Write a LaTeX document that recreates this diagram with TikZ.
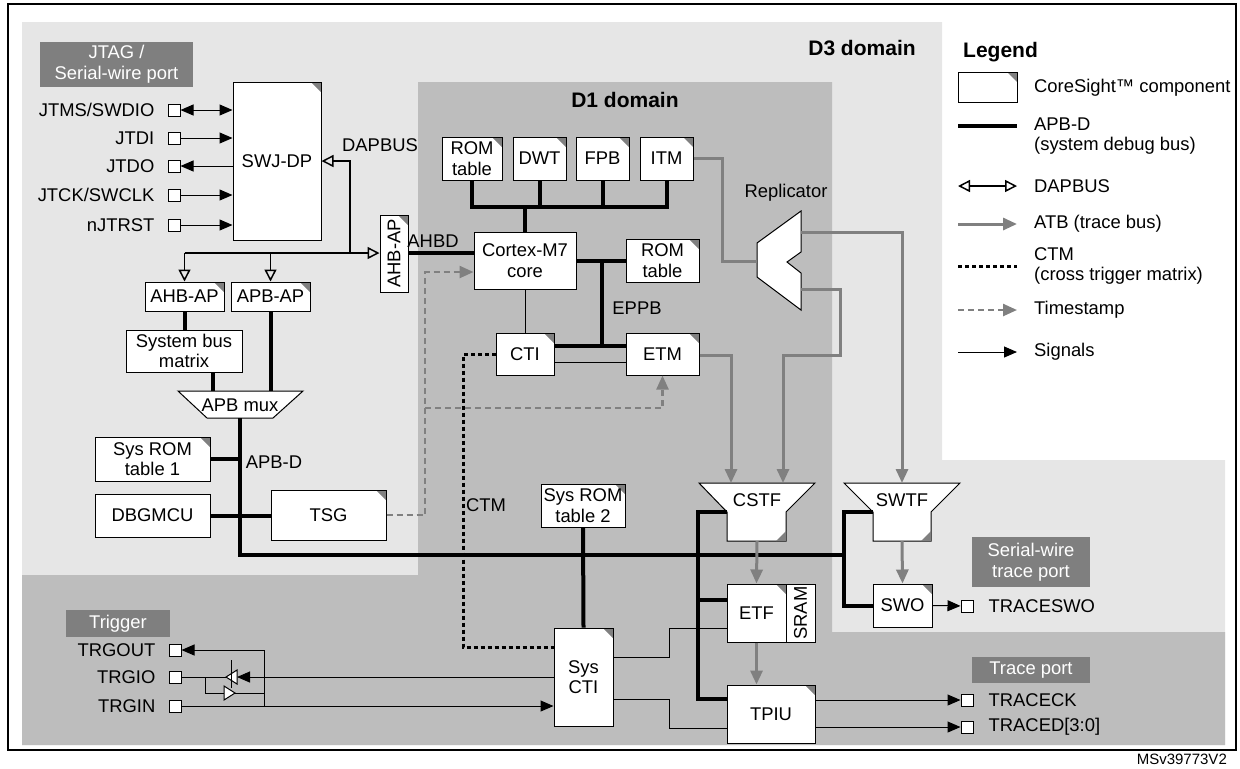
\documentclass[tikz,border=0pt]{standalone}
\usepackage{fontspec}
\setmainfont{Liberation Sans}
\usetikzlibrary{arrows.meta,fit,positioning}
\definecolor{lightc}{HTML}{E6E6E6}
\definecolor{darkc}{HTML}{BDBDBD}
\definecolor{tagc}{HTML}{7F7F7F}
\definecolor{atbc}{HTML}{808080}
\begin{document}
\begin{tikzpicture}[x=0.5pt,y=-0.5pt,
    font=\fontsize{9.2}{10.3}\selectfont, line width=0.5pt,
    comp/.style={draw, fill=white, inner sep=0pt,
      path picture={\fill[atbc] ([xshift=-5pt]path picture bounding box.north east)
        -- (path picture bounding box.north east) -- ([yshift=-5pt]path picture bounding box.north east) -- cycle;}},
    plain/.style={draw, fill=white, inner sep=0pt},
    txt/.style={label={[align=center]center:{#1}}},
    port/.style={draw, fill=white, minimum size=6pt, inner sep=0pt},
    tag/.style={fill=tagc, inner sep=0pt, label={[align=center, text=white]center:{#1}}},
    bus/.style={line width=2pt},
    atb/.style={draw=atbc, line width=1.5pt},
    atbarr/.style={atb, -{Triangle[length=7pt,width=6pt]}},
    sig/.style={-{Triangle[length=6.5pt,width=5.5pt]}},
    dap/.style={-{Triangle[open,length=6pt,width=6pt]}, line width=0.75pt},
    ctm/.style={line width=1.5pt, dash pattern=on 2pt off 1.5pt},
    ts/.style={draw=atbc, line width=1.2pt, dash pattern=on 3pt off 2pt, -{Triangle[length=7pt,width=6pt]}},
    title/.style={font=\bfseries\fontsize{10.5}{12}\selectfont}]
  \useasboundingbox (0,0) rectangle (1240,768);
  % domains
  \fill[lightc] (22,22) -| (942,460) -| (1225,745) -| cycle;
  \fill[darkc] (418,82) -| (832,632) -| (1225,745) -| (22,575) -| cycle;
  \draw[line width=1pt] (8,4) rectangle (1236,750);
  \node[title] (d3) at (862,48) {D3 domain};
  \node[title] (d1) at (625,100) {D1 domain};
  \node[anchor=east, font=\fontsize{7.5}{9}\selectfont] (msv) at (1234,759) {MSv39773V2};

  % JTAG / SW port
  \node[tag={JTAG /\\Serial-wire port}, fit={(40,42)(193,87)}] (jtagtag) {};
  \node[comp, txt=SWJ-DP, fit={(233,82)(321,240)}] (swjdp) {};
  \node[port] (ptms) at (174,110) {};
  \node[port] (ptdi) at (174,138) {};
  \node[port] (ptdo) at (174,166) {};
  \node[port] (ptck) at (174,195) {};
  \node[port] (ptrst) at (174,225) {};
  \node[left=3pt of ptms] {JTMS/SWDIO};
  \node[left=3pt of ptdi] {JTDI};
  \node[left=3pt of ptdo] {JTDO};
  \node[left=3pt of ptck] {JTCK/SWCLK};
  \node[left=3pt of ptrst] {nJTRST};
  \draw[{Triangle[length=6.5pt,width=5.5pt]}-{Triangle[length=6.5pt,width=5.5pt]}] (ptms) -- (swjdp.west |- ptms);
  \draw[sig] (ptdi) -- (swjdp.west |- ptdi);
  \draw[sig] (swjdp.west |- ptdo) -- (ptdo);
  \draw[sig] (ptck) -- (swjdp.west |- ptck);
  \draw[sig] (ptrst) -- (swjdp.west |- ptrst);

  % DAPBUS
  \node[comp, txt=AHB-AP, fit={(145,282)(224,311)}] (ahbap) {};
  \node[comp, txt=APB-AP, fit={(231,282)(310,311)}] (apbap) {};
  \node[comp, fit={(380,215)(408,292)}] (ahbapv) {};
  \node[rotate=90] (ahbapvt) at (ahbapv) {AHB-AP};
  \coordinate (dapj) at (350,253);
  \draw[dap] (dapj) |- (swjdp.east);
  \draw[line width=0.75pt] (ahbap.north |- dapj) -- (dapj);
  \draw[dap] (ahbap.north |- dapj) -- (ahbap.north);
  \draw[dap] (apbap.north |- dapj) -- (apbap.north);
  \draw[dap] (dapj) -- (ahbapv.west |- dapj);
  \node (dapbus) at (380,145) {DAPBUS};

  % system side
  \node[plain, txt={System bus\\matrix}, fit={(126,330)(242,372)}] (sbm) {};
  \draw[fill=white] (178,391) -- (303,391) -- (273,418) -- (207,418) -- cycle;
  \node (apbmux) at (240,405) {APB mux};
  \draw[bus] (ahbap.south) -- (ahbap.south |- sbm.north);
  \draw[bus] (sbm.south -| 213,0) -- (213,391);
  \draw[bus] (apbap.south) -- (apbap.south |- 0,391);
  \node[comp, txt={Sys ROM\\table 1}, fit={(95,437)(210,481)}] (romt1) {};
  \node[plain, txt=DBGMCU, fit={(95,494)(210,537)}] (dbg) {};
  \node[comp, txt=TSG, fit={(271,490)(386,540)}] (tsg) {};
  \node (apbd) at (274,462) {APB-D};
  \draw[bus] (240,418) -- (240,555) -- (844,555);
  \draw[bus] (romt1.east) -- (240,459);
  \draw[bus] (dbg.east) -- (tsg.west |- dbg.east);

  % D1 domain
  \node[comp, txt={ROM\\table}, fit={(442,137)(502,180)}] (rom1) {};
  \node[comp, txt=DWT, fit={(513,137)(566,180)}] (dwt) {};
  \node[comp, txt=FPB, fit={(576,137)(629,180)}] (fpb) {};
  \node[comp, txt=ITM, fit={(640,137)(693,180)}] (itm) {};
  \node[plain, txt={Cortex-M7\\core}, fit={(474,232)(576,289)}] (core) {};
  \node[comp, txt={ROM\\table}, fit={(626,239)(699,282)}] (rom2) {};
  \node[comp, txt=CTI, fit={(496,333)(554,375)}] (cti) {};
  \node[comp, txt=ETM, fit={(626,333)(699,375)}] (etm) {};
  \draw[bus] (rom1.south) |- (itm.south |- 0,207) -- (itm.south);
  \draw[bus] (dwt.south) -- (dwt.south |- 0,207);
  \draw[bus] (fpb.south) -- (fpb.south |- 0,207);
  \draw[bus] (core.north) -- (core.north |- 0,207);
  \draw[bus] (ahbapv.east |- dapj) -- (core.west |- dapj);
  \node (ahbd) at (433,241) {AHBD};
  \draw[bus] (core.east) -- (rom2.west);
  \draw[bus] (602,260.5) -- (602,346);
  \node (eppb) at (637,308) {EPPB};
  \draw[bus] (cti.east |- 0,346) -- (etm.west |- 0,346);
  \draw (cti.east |- 0,362) -- (etm.west |- 0,362);
  \draw (core.south) -- (cti.north);

  % trace
  \draw[fill=white] (801,211) -- (757,243) -- (757,277) -- (801,310) -- (801,273) -- (787,262) -- (801,252) -- cycle;
  \node (repl) at (786,193) {Replicator};
  \coordinate (repin) at (757,261);
  \draw[atb] (itm.east |- 0,158) -| (722,261) -- (repin);
  \draw[fill=white] (699,483) -- (815,483) -- (786,512) -- (786,541) -- (727,541) -- (727,512) -- cycle;
  \fill[atbc] (786,541) -- (786,531) -- (776,541) -- cycle;
  \node (cstf) at (757,500) {CSTF};
  \draw[fill=white] (844,483) -- (960,483) -- (931,512) -- (931,541) -- (873,541) -- (873,512) -- cycle;
  \fill[atbc] (931,541) -- (931,531) -- (921,541) -- cycle;
  \node (swtf) at (902,500) {SWTF};
  \draw[atbarr] (801,232) -| (902,483);
  \draw[atbarr] (801,289) -| (840,355) -| (783,483);
  \draw[atbarr] (etm.east |- 0,355) -| (731,483);

  \node[comp, txt=SWO, fit={(873,584)(932,627)}] (swo) {};
  \node[tag={Serial-wire\\trace port}, fit={(972,537)(1090,587)}] (swtag) {};
  \draw[atbarr] (902,541) -- (swo.north);
  \draw[bus] (873,512) -| (844,606) -- (swo.west |- 0,606);
  \node[port] (pswo) at (967,606) {};
  \draw[sig] (swo.east) -- (pswo);
  \node[right=4pt of pswo] {TRACESWO};

  \node[comp, txt=ETF, fit={(727,584)(786,642)}] (etf) {};
  \node[plain, fit={(786,584)(815,642)}] (sram) {};
  \node[rotate=90] (sramt) at (sram) {SRAM};
  \node[comp, txt=TPIU, fit={(727,685)(815,743)}] (tpiu) {};
  \draw[atbarr] (757,541) -- (etf.north);
  \draw[atbarr] (etf.south) -- (etf.south |- tpiu.north);
  \draw[bus] (727,512) -| (698,699) -- (tpiu.west |- 0,699);
  \draw[bus] (698,600) -- (etf.west |- 0,600);
  \node[tag={Trace port}, fit={(972,657)(1090,683)}] (trtag) {};
  \node[port] (pck) at (967,700) {};
  \node[port] (pcd) at (967,727) {};
  \draw[sig] (tpiu.east |- pck) -- (pck);
  \draw[sig] (tpiu.east |- pcd) -- (pcd);
  \node[right=4pt of pck] {TRACECK};
  \node[right=4pt of pcd] {TRACED[3:0]};

  % timestamp and CTM
  \draw[ts] (tsg.east) -| (425,272) -- (core.west |- 0,272);
  \draw[ts] (425,408) -| (etm.south);
  \node[comp, txt={Sys ROM\\table 2}, fit={(541,484)(625,527)}] (sysrom2) {};
  \node[comp, txt={Sys\\CTI}, fit={(554,628)(613,726)}] (sysc) {};
  \draw[bus] (sysrom2.south) -- (sysc.north);
  \draw[ctm] (cti.west) -| (463,647) -- (sysc.west |- 0,647);
  \node (ctm) at (486,505) {CTM};
  \draw (sysc.east |- 0,657) -| (669,628) -- (etf.west |- 0,628);
  \draw (sysc.east |- 0,699) -| (669,728) -- (tpiu.west |- 0,728);

  % trigger
  \node[tag=Trigger, fit={(66,610)(170,637)}] (trigtag) {};
  \node[port] (ptout) at (175,650) {};
  \node[port] (ptio) at (175,677) {};
  \node[port] (ptin) at (175,706) {};
  \node[left=3pt of ptout] {TRGOUT};
  \node[left=3pt of ptio] {TRGIO};
  \node[left=3pt of ptin] {TRGIN};
  \draw[sig] (ptin) -- (sysc.west |- ptin);
  \draw[sig] (sysc.west |- ptio) -- (237,677);
  \draw[fill=white] (237,670) -- (237,684) -- (226,677) -- cycle;
  \draw (231,660) -- (231,688);
  \draw (ptio) -- (226,677);
  \draw (205,677) |- (224,693);
  \draw[fill=white] (224,686) -- (224,700) -- (235,693) -- cycle;
  \draw (235,693) -| (264,706);
  \draw[sig] (264,706) |- (ptout);

  % legend
  \node[title, anchor=west] (legend) at (956,52) {Legend};
  \node[comp, fit={(958,72)(1017,102)}] (legc) {};
  \node[anchor=west] (legct) at (1027,88) {CoreSight™ component};
  \draw[bus] (958,126) -- (1017,126);
  \node[anchor=west, align=left] (legbus) at (1027,136) {APB-D\\(system debug bus)};
  \draw[dap, {Triangle[open,length=6pt,width=6pt]}-{Triangle[open,length=6pt,width=6pt]}] (958,186) -- (1017,186);
  \node[anchor=west] (legdap) at (1027,186) {DAPBUS};
  \draw[atbarr] (958,224) -- (1017,224);
  \node[anchor=west] (legatb) at (1027,224) {ATB (trace bus)};
  \draw[ctm] (958,266) -- (1017,266);
  \node[anchor=west, align=left] (legctm) at (1027,266) {CTM\\(cross trigger matrix)};
  \draw[ts] (958,310) -- (1017,310);
  \node[anchor=west] (legts) at (1027,310) {Timestamp};
  \draw[sig] (958,352) -- (1017,352);
  \node[anchor=west] (legsig) at (1027,352) {Signals};
\end{tikzpicture}
\end{document}
